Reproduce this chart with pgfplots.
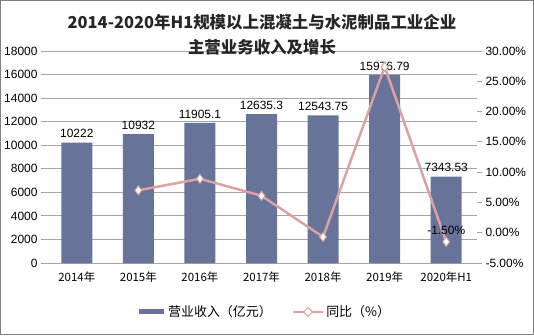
\documentclass[border=0pt]{standalone}
\usepackage{pgfplots}
\pgfplotsset{compat=1.18}
\usepackage{fontspec}
\setmainfont{Liberation Sans}
\newfontfamily\cjk{Noto Sans CJK SC}
\definecolor{barc}{RGB}{104,115,153}
\definecolor{linec}{RGB}{218,162,162}
\definecolor{gridc}{RGB}{165,165,165}
\begin{document}
\begin{tikzpicture}[x=1bp,y=1bp]
\draw[draw=black!50, line width=1bp] (0.5,0.5) rectangle (533.5,334.5);
\node[font=\cjk\bfseries\fontsize{16.5}{18}\selectfont, text=black!85] at (262,313) {2014-2020年H1规模以上混凝土与水泥制品工业企业};
\begin{axis}[
  at={(46bp,72bp)}, anchor=south west, scale only axis,
  width=431bp, height=212bp,
  xmin=-0.5, xmax=6.5, ymin=0, ymax=18000,
  ytick={0,2000,...,18000},
  xtick={0,...,6},
  xticklabels={2014年,2015年,2016年,2017年,2018年,2019年,2020年H1},
  xticklabel style={font=\cjk\fontsize{11.5}{13}\selectfont},
  yticklabel style={font=\fontsize{12}{14}\selectfont},
  /pgf/number format/assume math mode=true,
  /pgf/number format/1000 sep={},
  scaled y ticks=false,
  ymajorgrids, grid style={gridc, line width=0.8bp},
  axis x line*=bottom, axis y line*=left,
  y axis line style={draw=none},
  x axis line style={gridc, line width=0.8bp},
  xtick style={draw=none},
  ytick style={gridc, line width=0.8bp},
  tick align=outside, major tick length=5bp,
  ybar, bar width=31bp,
  nodes near coords, point meta=explicit symbolic,
  every node near coord/.append style={font=\fontsize{12}{14}\selectfont, black, yshift=1bp},
]
\addplot[fill=barc, draw=none] coordinates {
  (0,10222) [10222]
  (1,10932) [10932]
  (2,11905.1) [11905.1]
  (3,12635.3) [12635.3]
  (4,12543.75) [12543.75]
  (5,15976.79) [15976.79]
  (6,7343.53) [7343.53]
};
\end{axis}
\begin{axis}[
  at={(46bp,72bp)}, anchor=south west, scale only axis,
  width=431bp, height=212bp,
  xmin=-0.5, xmax=6.5, ymin=-5, ymax=30,
  ytick={-5,0,...,30},
  axis y line*=right, axis x line=none,
  y axis line style={draw=none},
  ytick style={gridc, line width=0.8bp},
  tick align=outside, major tick length=5bp,
  yticklabel={\pgfmathprintnumber[fixed,fixed zerofill,precision=2]{\tick}\%},
  yticklabel style={font=\fontsize{12}{14}\selectfont},
  /pgf/number format/assume math mode=true,
  legend columns=2,
  legend style={at={(0.506,-0.231)}, anchor=center, draw=none, fill=none,
    font=\cjk\fontsize{13}{15}\selectfont,
    /tikz/every even column/.append style={column sep=18bp}},
  legend cell align=left,
]
\addlegendimage{legend image code/.code={\draw[line width=5bp, barc] (0bp,0bp) -- (25bp,0bp);}}
\addlegendentry{营业收入（亿元）}
\addplot[linec, line width=2.5bp, mark=diamond*, mark size=4.5bp,
  mark options={fill=white, draw=linec, line width=1bp},
  legend image code/.code={\draw[linec, line width=2.5bp] (0bp,0bp) -- (30bp,0bp);
    \draw[fill=white, draw=linec, line width=1bp] (15bp,-4.5bp) -- (19.5bp,0bp) -- (15bp,4.5bp) -- (10.5bp,0bp) -- cycle;}] coordinates {
  (1,7.0) (2,8.9) (3,6.1) (4,-0.7) (5,27.4) (6,-1.5)
};
\addlegendentry{同比（\%）}
\addplot[draw=none, mark=none, nodes near coords, point meta=explicit symbolic,
  every node near coord/.append style={font=\fontsize{12}{14}\selectfont, black, yshift=4bp}, forget plot]
  coordinates {(6,-1.5) [-1.50\%]};
\end{axis}
\node[font=\cjk\bfseries\fontsize{16.5}{18}\selectfont, text=black!85] at (262,288) {主营业务收入及增长};
\end{tikzpicture}
\end{document}
